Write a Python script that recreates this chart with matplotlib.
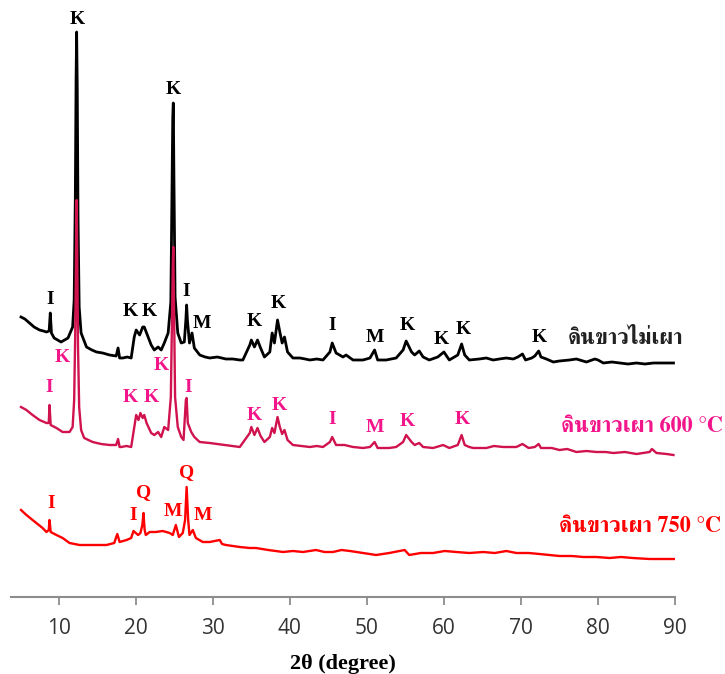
import matplotlib
matplotlib.use("Agg")
import matplotlib.pyplot as plt
import matplotlib.font_manager as fm
from matplotlib.ft2font import FT2Font

# ---------------- data (2theta in degree, intensity in arbitrary units) -------------
raw_x = [5.1, 5.6, 6.2, 6.8, 7.5, 8.0, 8.4, 8.75, 8.9, 9.05, 9.4, 10.3, 11.2, 11.8, 12.0, 12.15, 12.25, 12.32,
         12.4, 12.5, 12.65, 12.9, 13.6, 14.3, 14.9, 15.7, 16.6, 17.45, 17.7, 17.9, 18.3, 18.9, 19.4, 19.8, 20.05,
         20.5, 20.9, 21.1, 21.4, 22.0, 22.4, 22.9, 23.3, 23.7, 24.2, 24.55, 24.7, 24.8, 24.87,
         24.95, 25.1, 25.45, 25.9, 26.3, 26.5, 26.6, 26.7, 26.97, 27.3, 27.6, 28.3, 29.0, 29.6, 30.6, 31.7,
         32.6, 33.5, 33.9, 34.8, 35.0, 35.4, 35.8, 36.2, 36.7, 37.4, 37.7, 38.0, 38.4, 38.7, 39.0, 39.3,
         39.7, 40.4, 41.3, 42.0, 42.6, 43.5, 44.3, 45.2, 45.5, 46.0, 46.9, 47.3, 48.2, 49.5, 50.4, 51.0, 51.4,
         52.5, 53.8, 54.7, 55.1, 55.8, 56.2, 56.8, 57.3, 58.1, 59.2, 60.0, 60.7, 61.8, 62.3, 62.7,
         63.3, 64.6, 65.5, 66.4, 67.2, 68.1, 69.0, 69.6, 70.2, 70.6, 71.4, 71.8, 72.3, 72.6, 73.3,
         74.2, 75.0, 76.3, 77.2, 78.5, 79.6, 80.0, 80.7, 81.8, 82.8, 83.9, 85.0, 86.1, 87.2, 88.4, 89.8]
raw_y = [280, 278, 274, 270, 267, 266, 265, 266, 284, 264, 259, 255, 259, 270, 297, 400, 520, 565,
         510, 380, 290, 264, 250, 247, 245, 244, 242, 241, 249, 239, 239, 240, 239, 260, 267,
         262, 270, 270, 264, 252, 247, 250, 247, 254, 264, 295, 400, 480, 494,
         420, 300, 264, 254, 255, 277, 292, 277, 254, 264, 249, 242, 240, 239, 240, 238,
         238, 237, 237, 252, 257, 250, 257, 249, 240, 245, 264, 254, 277, 265, 254, 260,
         245, 239, 239, 238, 237, 238, 237, 245, 254, 244, 240, 242, 237, 237, 239, 247, 237,
         237, 239, 247, 256, 245, 242, 246, 240, 237, 240, 245, 237, 242, 253, 242,
         237, 238, 239, 237, 238, 239, 238, 240, 243, 237, 239, 241, 246, 240, 238,
         235, 236, 237, 238, 235, 238, 237, 234, 235, 234, 233, 234, 233, 234, 234, 234]

c600_x = [5.1, 5.8, 6.6, 7.5, 8.4, 8.7, 8.8, 8.95, 9.7, 10.5, 11.4, 11.8, 12.0, 12.15, 12.25,
          12.32, 12.4, 12.5, 12.65, 12.9, 13.3, 14.4, 15.5, 16.6, 17.45, 17.7, 17.9, 18.1, 18.8, 19.4, 19.8,
          20.05, 20.35, 20.6, 20.9, 21.1, 21.4, 22.0, 22.4, 22.9, 23.3, 23.7, 24.2, 24.55, 24.7,
          24.8, 24.87, 24.95, 25.1, 25.45, 25.9, 26.2, 26.5, 26.6, 26.75, 27.2, 27.6, 28.3, 29.6,
          30.6, 31.7, 32.6, 33.5, 34.8, 35.0, 35.4, 35.8, 36.2, 36.7, 37.4, 37.7, 38.0, 38.4, 38.7, 39.0, 39.3,
          39.7, 40.4, 41.5, 42.6, 43.5, 44.3, 45.2, 45.5, 46.0, 47.1, 48.2, 49.5, 50.4, 51.0, 51.4, 52.9, 53.8,
          54.7, 55.1, 55.8, 56.2, 56.8, 57.3, 58.6, 59.9, 60.7, 61.8, 62.3, 62.7, 63.3, 63.8, 65.5,
          66.5, 67.7, 69.4, 70.2, 71.0, 71.8, 72.3, 72.6, 74.0, 75.0, 76.0, 77.2, 78.5, 79.8, 81.0, 82.0,
          83.5, 85.0, 86.7, 87.0, 87.6, 88.9, 89.8]
c600_y = [190, 187, 182, 177, 174, 174, 192, 172, 169, 165, 165, 170, 197, 270, 350,
          397, 340, 250, 190, 167, 159, 155, 153, 152, 152, 158, 150, 150, 151, 150, 170,
          182, 177, 184, 179, 182, 174, 164, 162, 165, 160, 170, 167, 200, 280,
          330, 350, 300, 200, 170, 160, 157, 197, 199, 174, 165, 160, 155, 154,
          153, 152, 151, 150, 164, 170, 162, 169, 161, 155, 160, 169, 164, 180, 170, 163, 167,
          157, 152, 151, 150, 151, 150, 155, 160, 152, 152, 150, 149, 150, 155, 149, 149, 150,
          155, 162, 155, 152, 154, 150, 149, 152, 149, 152, 162, 152, 150, 149, 149,
          151, 150, 150, 153, 149, 150, 153, 149, 149, 147, 148, 145, 146, 145, 145, 144,
          145, 143, 145, 148, 144, 143, 142]

c750_x = [5.1, 5.8, 6.6, 7.9, 8.4, 8.7, 8.8, 8.95, 9.7, 10.5, 11.4, 12.7, 14.4, 16.2, 17.2,
          17.6, 17.9, 18.8, 19.4, 19.7, 20.3, 20.6, 20.85, 21.0, 21.15, 21.3, 21.8, 22.6, 23.5,
          24.4, 24.8, 25.2, 25.6, 26.1, 26.4, 26.6, 26.8, 26.97, 27.4, 27.8, 28.7, 29.6, 30.9,
          31.2, 31.7, 33.5, 34.8, 35.6, 37.2, 39.1, 40.4, 41.7, 43.4, 44.5, 45.6, 46.7, 47.8, 49.5,
          51.2, 52.9, 54.9, 55.5, 57.0, 58.6, 60.1, 61.6, 63.3, 65.1, 66.6, 68.1, 69.4, 71.0, 72.4,
          73.7, 75.0, 76.6, 78.1, 79.8, 81.5, 83.0, 84.5, 86.7, 88.3, 90.0]
c750_y = [87, 82, 77, 69, 65, 67, 77, 65, 62, 59, 54, 52, 52, 52, 54,
          63, 55, 57, 59, 66, 62, 64, 72, 84, 67, 62, 65, 65, 66,
          64, 62, 72, 60, 64, 77, 110, 77, 62, 67, 59, 55, 55, 57,
          53, 52, 50, 49, 49, 47, 45, 46, 45, 47, 45, 45, 47, 46, 44,
          42, 44, 47, 42, 44, 44, 46, 45, 44, 45, 44, 46, 44, 44, 43,
          42, 41, 41, 40, 40, 39, 40, 39, 38, 38, 38]

x_ticks = [10, 20, 30, 40, 50, 60, 70, 80, 90]
x_label = "2θ (degree)"

# peak labels: (text, 2theta, intensity)
raw_labels = [("I", 8.9, 297), ("K", 12.35, 577), ("K", 24.9, 508), ("K", 19.27, 285),
              ("K", 21.7, 285), ("I", 26.6, 305), ("M", 28.6, 274), ("K", 35.4, 275),
              ("K", 38.45, 294), ("I", 45.5, 272), ("M", 51.1, 260), ("K", 55.2, 272),
              ("K", 59.7, 257), ("K", 62.5, 267), ("K", 72.4, 259)]
c600_labels = [("K", 10.5, 240), ("I", 8.8, 209), ("K", 19.27, 199), ("K", 22.0, 199),
               ("K", 23.3, 232), ("I", 26.75, 210), ("K", 35.4, 182), ("K", 38.66, 192),
               ("I", 45.5, 177), ("M", 51.1, 169), ("K", 55.2, 175), ("K", 62.35, 177)]
c750_labels = [("I", 9.0, 94), ("I", 19.6, 82), ("Q", 21.0, 104), ("M", 24.8, 86),
               ("Q", 26.55, 124), ("M", 28.7, 82)]

series_names = ["ดินขาวไม่เผา", "ดินขาวเผา 600 °C", "ดินขาวเผา 750 °C"]
name_pos = [(76.1, 259), (75.2, 170), (74.9, 70)]

# ---------------- fonts --------------------------------------------------------------
def find_thai():
    cands = []
    for f in fm.fontManager.ttflist:
        try:
            cmap = FT2Font(f.fname).get_charmap()
        except Exception:
            continue
        if 0x0E14 in cmap and 0x0E32 in cmap:
            score = 0
            w = f.weight if isinstance(f.weight, int) else (700 if 'bold' in str(f.weight).lower() else 400)
            if w >= 600:
                score += 2
            if 'serif' in f.name.lower() and 'sans' not in f.name.lower():
                score += 1
            cands.append((score, f.name))
    cands.sort(reverse=True)
    return cands[0][1] if cands else None

thai = find_thai()
thai_family = [thai, "DejaVu Sans"] if thai else ["DejaVu Sans"]

# ---------------- plot ---------------------------------------------------------------
fig = plt.figure(figsize=(7.25, 6.74), dpi=100)
ax = fig.add_axes([11 / 725, 1 - 597 / 674, (675 - 11) / 725, (597 - 7) / 674])

c_black = "#000000"
c_pink_line = "#d0124e"
c_pink_txt = "#f2168a"
c_red = "#ff0000"

ax.plot(raw_x, raw_y, color=c_black, lw=2.0, solid_joinstyle="round")
ax.plot(c600_x, c600_y, color=c_pink_line, lw=1.7, solid_joinstyle="round")
ax.plot(c750_x, c750_y, color=c_red, lw=1.7, solid_joinstyle="round")

lab_font = dict(family="Liberation Serif", weight="bold", fontsize=14,
                ha="center", va="center")
for t, x, y in raw_labels:
    ax.text(x, y, t, color=c_black, **lab_font)
for t, x, y in c600_labels:
    ax.text(x, y, t, color=c_pink_txt, **lab_font)
for t, x, y in c750_labels:
    ax.text(x, y, t, color=c_red, **lab_font)

name_colors = ["#222222", c_pink_txt, c_red]
for name, (x, y), c in zip(series_names, name_pos, name_colors):
    ax.text(x, y, name, color=c, family=thai_family, weight="bold", fontsize=16,
            ha="left", va="center")

ax.set_xlim(3.8, 90)
ax.set_ylim(0, 590)
for s in ["top", "right", "left"]:
    ax.spines[s].set_visible(False)
ax.spines["bottom"].set_color("#8c8c8c")
ax.spines["bottom"].set_linewidth(1.5)
ax.set_yticks([])
ax.set_xticks(x_ticks)
ax.tick_params(axis="x", direction="out", length=6, width=1.3, color="#8c8c8c",
               pad=9, labelsize=15, labelcolor="#333333")
for lb in ax.get_xticklabels():
    lb.set_family("Open Sans")
ax.set_xlabel(x_label, family="Liberation Serif", weight="bold", fontsize=16, labelpad=11)

fig.savefig("out.png", dpi=100)
